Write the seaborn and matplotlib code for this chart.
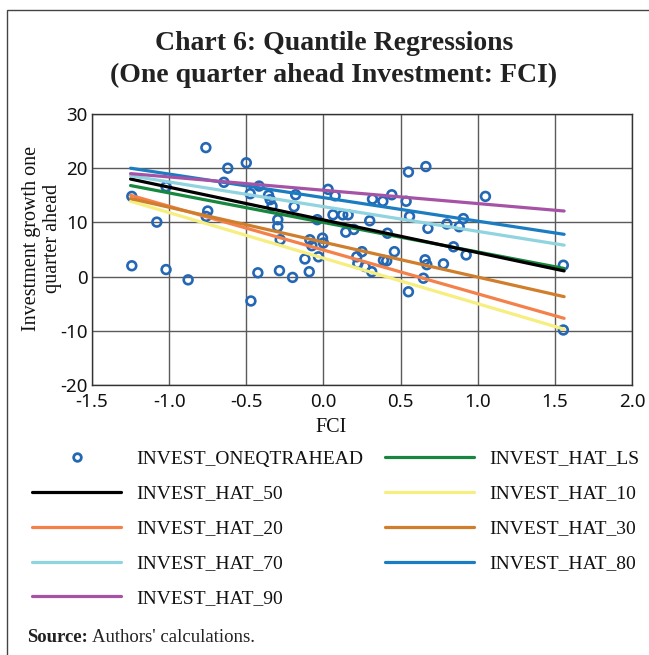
import matplotlib
matplotlib.use("Agg")
import matplotlib.pyplot as plt
import seaborn as sns
import pandas as pd
import numpy as np
from matplotlib.lines import Line2D
from matplotlib.patches import Rectangle

# ---- data ----
fci = [-1.242, -1.242, -1.08, -1.02, -1.02, -0.877, -0.762, -0.75, -0.76, -0.645,
       -0.62, -0.50, -0.475, -0.47, -0.425, -0.417, -0.356, -0.345, -0.333, -0.296,
       -0.296, -0.28, -0.285, -0.20, -0.18, -0.19, -0.12, -0.088, -0.075, -0.092,
       -0.032, -0.006, 0.0, -0.04, 0.03, 0.076, 0.062, 0.125, 0.16, 0.145,
       0.197, 0.216, 0.223, 0.25, 0.27, 0.313, 0.30, 0.318, 0.385, 0.443,
       0.389, 0.41, 0.415, 0.46, 0.551, 0.664, 0.536, 0.558, 0.677, 0.8,
       0.88, 0.907, 1.05, 0.659, 0.67, 0.778, 0.843, 0.925, 0.648, 0.551,
       1.555, 1.555]
invest = [14.8, 2.0, 10.05, 16.6, 1.3, -0.6, 23.8, 12.1, 11.1, 17.4,
          20.0, 21.0, 15.3, -4.5, 0.7, 16.7, 15.0, 14.2, 13.0, 10.5,
          9.2, 6.8, 1.1, -0.15, 15.1, 12.9, 3.25, 6.8, 5.7, 0.9,
          3.65, 7.1, 6.2, 10.5, 16.1, 14.9, 11.4, 11.4, 11.4, 8.2,
          8.7, 3.65, 2.4, 4.6, 1.85, 0.9, 10.3, 14.3, 13.9, 15.1,
          3.0, 2.9, 8.0, 4.6, 19.3, 20.3, 13.9, 11.1, 8.9, 9.7,
          9.2, 10.7, 14.8, 3.1, 2.2, 2.35, 5.5, 4.0, -0.3, -2.8,
          2.1, -9.85]

fit_x = [-1.25, 1.56]
series_names = ["INVEST_HAT_LS", "INVEST_HAT_50", "INVEST_HAT_10", "INVEST_HAT_20",
                "INVEST_HAT_30", "INVEST_HAT_70", "INVEST_HAT_80", "INVEST_HAT_90"]
fit_start = [16.8, 18.0, 13.9, 15.0, 14.4, 18.6, 20.0, 19.0]
fit_end = [1.5, 1.05, -9.7, -7.7, -3.7, 5.8, 7.8, 12.1]
colors = ["#17873f", "#000000", "#f6ee7e", "#f4804a", "#d07e2c", "#8fd4df", "#1a7cc1", "#a653a6"]

x_ticks = [-1.5, -1.0, -0.5, 0.0, 0.5, 1.0, 1.5, 2.0]
x_ticklabels = ["-1.5", "-1.0", "-0.5", "0.0", "0.5", "1.0", "1.5", "2.0"]
y_ticks = [-20, -10, 0, 10, 20, 30]
y_ticklabels = ["-20", "-10", "0", "10", "20", "30"]

# ---- figure ----
sns.set_theme(style="white")
plt.rcParams['font.family'] = ['DejaVu Sans']

fig = plt.figure(figsize=(6.49, 6.55), dpi=100)
ax = fig.add_axes([92/649, 1-385/655, (632-92)/649, (385-114)/655])

scat = pd.DataFrame({"FCI": fci, "INVEST": invest})
sns.scatterplot(data=scat, x="FCI", y="INVEST", ax=ax, marker="o", s=40,
                facecolor="none", edgecolor="#2467b5", linewidth=1.9, zorder=3)

rows = []
for name, a, b in zip(series_names, fit_start, fit_end):
    rows.append({"series": name, "FCI": fit_x[0], "val": a})
    rows.append({"series": name, "FCI": fit_x[1], "val": b})
lines = pd.DataFrame(rows)
pal = dict(zip(series_names, colors))
sns.lineplot(data=lines, x="FCI", y="val", hue="series", palette=pal, ax=ax,
             linewidth=2.3, legend=False, zorder=4)

ax.set_xlim(-1.5, 2.0)
ax.set_ylim(-20, 30)
ax.set_xticks(x_ticks)
ax.set_xticklabels(x_ticklabels, family="Noto Sans")
ax.set_yticks(y_ticks)
ax.set_yticklabels(y_ticklabels, family="Noto Sans")
ax.grid(True, color="#5a5a5a", linewidth=1.0)
for sp in ax.spines.values():
    sp.set_color("#333333")
    sp.set_linewidth(1.0)
ax.tick_params(axis="both", labelsize=13.5, colors="#111111", length=0)
ax.tick_params(axis="x", pad=6)
ax.tick_params(axis="y", pad=3)
ax.set_xlabel("")
ax.set_ylabel("")

fig.text(42/649, 1-238/655, "Investment growth one\nquarter ahead", family="Liberation Serif",
         fontsize=14.5, rotation=90, ha="center", va="center", multialignment="center",
         linespacing=1.1, color="#111111")

fig.text(331/649, 1-428/655, "FCI", family="Liberation Serif", fontsize=14.5,
         ha="center", va="center", color="#111111")

fig.text(334/649, 1-43/655, "Chart 6: Quantile Regressions", family="Liberation Serif",
         fontweight="bold", fontsize=20, ha="center", va="center", color="#222222")
fig.text(334/649, 1-75/655, "(One quarter ahead Investment: FCI)", family="Liberation Serif",
         fontweight="bold", fontsize=20, ha="center", va="center", color="#222222")

# legend (column-major: 5 in first column, 4 in second)
handles = [Line2D([], [], linestyle="none", marker="o", markersize=5.5,
                  markerfacecolor="none", markeredgecolor="#2467b5", markeredgewidth=2.0)]
labels = ["INVEST_ONEQTRAHEAD"]
order = ["INVEST_HAT_50", "INVEST_HAT_20", "INVEST_HAT_70", "INVEST_HAT_90",
         "INVEST_HAT_LS", "INVEST_HAT_10", "INVEST_HAT_30", "INVEST_HAT_80"]
for n in order:
    handles.append(Line2D([], [], color=pal[n], linewidth=2.3))
    labels.append(n)
leg = fig.legend(handles, labels, ncol=2, loc="upper left",
                 bbox_to_anchor=(32/649, 1-450/655), frameon=False,
                 prop={"family": "Liberation Serif", "size": 14},
                 handlelength=4.6, handletextpad=0.77, columnspacing=1.1,
                 labelspacing=0.89, borderaxespad=0, borderpad=0)
for t in leg.get_texts():
    t.set_color("#111111")

src_y = 1-637/655
t1 = fig.text(27/649, src_y, "Source:", family="Liberation Serif", fontweight="bold",
              fontsize=13.5, ha="left", va="center", color="#222222")
fig.canvas.draw()
bb = t1.get_window_extent(renderer=fig.canvas.get_renderer())
fig.text((bb.x1 + 4)/649, src_y, "Authors' calculations.", family="Liberation Serif",
         fontsize=13.5, ha="left", va="center", color="#222222")

fig.patches.append(Rectangle((7/649, -0.2), 1.2, 1.2 - 10/655, transform=fig.transFigure,
                             fill=False, edgecolor="#444444", linewidth=1.0))

fig.savefig("out.png", dpi=100)
